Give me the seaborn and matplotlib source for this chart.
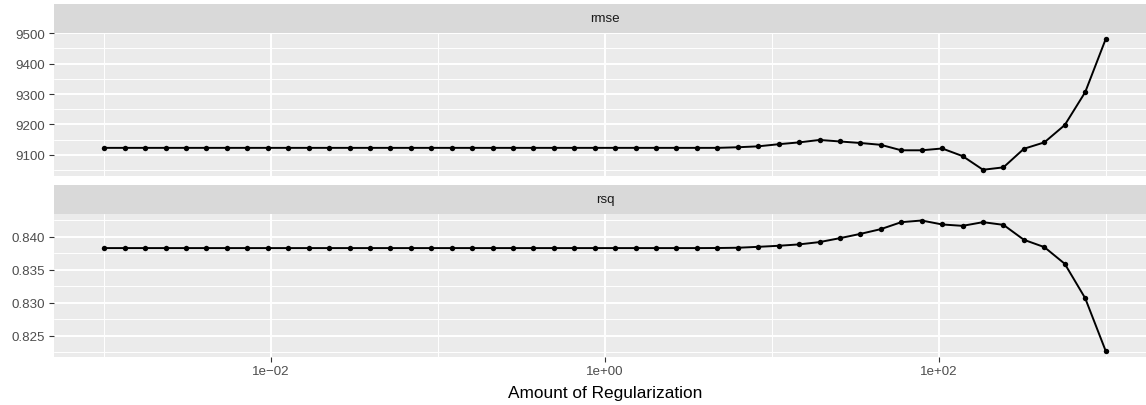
import numpy as np
import pandas as pd
import matplotlib
matplotlib.use("Agg")
import matplotlib.pyplot as plt
import seaborn as sns

# ---------------- data ----------------
# penalty grid (regular tuning grid, 50 values from 1e-3 to 1e3)
penalty = np.logspace(-3, 3, 50)

rmse = [9123] * 31 + [9125, 9128, 9135, 9141, 9149, 9144, 9139, 9133, 9115,
                      9115, 9121, 9096, 9051, 9059, 9120, 9141, 9198, 9306, 9480]

rsq = [0.83829] * 30 + [0.83830, 0.83834, 0.83848, 0.83864, 0.83885, 0.83920,
                        0.83980, 0.84045, 0.84117, 0.84223, 0.84248, 0.84188,
                        0.84167, 0.84223, 0.84182, 0.83955, 0.83844, 0.83590,
                        0.83067, 0.82268]

metrics = ["rmse", "rsq"]
x_major = [1e-2, 1e0, 1e2]
x_minor = [1e-3, 1e-1, 1e1, 1e3]
x_labels = ["1e\u221202", "1e+00", "1e+02"]
y_major = {"rmse": [9100, 9200, 9300, 9400, 9500],
           "rsq": [0.825, 0.830, 0.835, 0.840]}
y_labels = {"rmse": ["9100", "9200", "9300", "9400", "9500"],
            "rsq": ["0.825", "0.830", "0.835", "0.840"]}
y_minor = {"rmse": [9050, 9150, 9250, 9350, 9450],
           "rsq": [0.8225, 0.8275, 0.8325, 0.8375, 0.8425]}
x_title = "Amount of Regularization"

# -------------- figure ----------------
sns.set_theme(style="white")
plt.rcParams["font.family"] = ["Liberation Sans", "DejaVu Sans"]

W, H = 1146, 406
DPI = 100
fig = plt.figure(figsize=(W / DPI, H / DPI), dpi=DPI)

PANEL_BG = "#EBEBEB"
STRIP_BG = "#D9D9D9"
TICK_TXT = "#4D4D4D"
TICK_LINE = "#333333"
TICK_SIZE = 9.6

left_px, right_px = 54.2, 1155.7
panels = {
    "rmse": dict(top=33.7, bottom=177.3, strip_top=5.0),
    "rsq": dict(top=215.0, bottom=358.3, strip_top=186.0),
}
series = {"rmse": rmse, "rsq": rsq}

xlim = (10 ** -3.3, 10 ** 3.3)

for m in metrics:
    p = panels[m]
    ax = fig.add_axes([left_px / W, (H - p["bottom"]) / H,
                       (right_px - left_px) / W, (p["bottom"] - p["top"]) / H])
    df = pd.DataFrame({"penalty": penalty, "value": series[m]})
    sns.lineplot(data=df, x="penalty", y="value", ax=ax, color="black",
                 linewidth=1.4, marker="o", markersize=3.9,
                 markeredgewidth=0, markerfacecolor="black")
    ax.set_xscale("log")
    ax.set_xlim(*xlim)
    vmin, vmax = min(series[m]), max(series[m])
    pad = (vmax - vmin) * 0.05
    ax.set_ylim(vmin - pad, vmax + pad)
    ax.set_facecolor(PANEL_BG)
    for s in ax.spines.values():
        s.set_visible(False)

    # grid
    for xv in x_minor:
        ax.axvline(xv, color="white", lw=0.7, zorder=0)
    for xv in x_major:
        ax.axvline(xv, color="white", lw=1.4, zorder=0)
    for yv in y_minor[m]:
        ax.axhline(yv, color="white", lw=0.7, zorder=0)
    for yv in y_major[m]:
        ax.axhline(yv, color="white", lw=1.4, zorder=0)
    ax.set_axisbelow(True)

    ax.set_yticks(y_major[m])
    ax.set_yticklabels(y_labels[m])
    ax.yaxis.set_minor_locator(matplotlib.ticker.NullLocator())
    ax.xaxis.set_minor_locator(matplotlib.ticker.NullLocator())
    ax.tick_params(axis="y", which="major", length=3.4, width=0.8,
                   color=TICK_LINE, labelcolor=TICK_TXT, labelsize=TICK_SIZE,
                   pad=3, left=True)
    if m == "rsq":
        ax.set_xticks(x_major)
        ax.set_xticklabels(x_labels)
        ax.tick_params(axis="x", which="major", length=3.4, width=0.8,
                       color=TICK_LINE, labelcolor=TICK_TXT, labelsize=TICK_SIZE,
                       pad=2.5, bottom=True)
    else:
        ax.set_xticks([])
    ax.set_xlabel("")
    ax.set_ylabel("")

    # strip
    sax = fig.add_axes([left_px / W, (H - p["top"]) / H,
                        (right_px - left_px) / W, (p["top"] - p["strip_top"]) / H])
    sax.set_facecolor(STRIP_BG)
    sax.set_xticks([])
    sax.set_yticks([])
    for s in sax.spines.values():
        s.set_visible(False)
    sax.text(0.5, 0.5, m, ha="center", va="center", fontsize=TICK_SIZE,
             color="#1A1A1A", transform=sax.transAxes)

fig.text(605 / W, 1 - 397.7 / H, x_title, ha="center", va="baseline",
         fontsize=12.4, color="black")

fig.savefig("out.png", dpi=DPI)
